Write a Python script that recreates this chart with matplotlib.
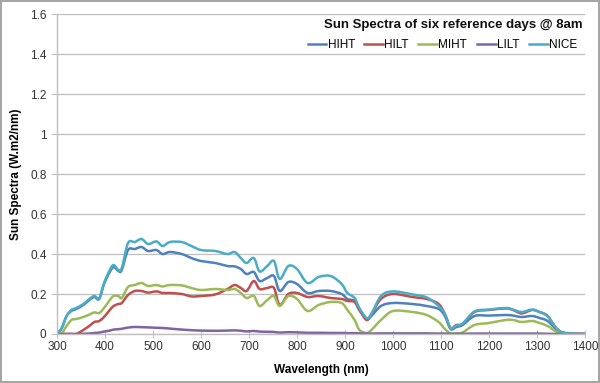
import matplotlib
matplotlib.use("Agg")
import matplotlib.pyplot as plt
import numpy as np
from matplotlib.lines import Line2D
from matplotlib.patches import PathPatch
from matplotlib.path import Path

plt.rcParams.update({
    "font.family": ["Liberation Sans", "DejaVu Sans"],
    "font.size": 8,
})

# wavelength grid (nm)
wavelength = [300, 310, 320, 330, 340, 355, 370, 378, 388, 398, 410, 418, 428, 435,
              448, 462, 476, 490, 507, 520, 535, 560, 580, 600, 630, 655, 670, 683,
              695, 710, 722, 738, 752, 764, 782, 800, 822, 845, 870, 893, 905, 920,
              930, 945, 955, 975, 1000, 1040, 1070, 1095, 1108, 1120, 1132, 1145,
              1170, 1200, 1235, 1250, 1268, 1290, 1305, 1322, 1350, 1400]

hiht = [0, 0.03, 0.09, 0.115, 0.125, 0.145, 0.175, 0.185, 0.175, 0.25, 0.31, 0.335,
        0.315, 0.32, 0.42, 0.425, 0.435, 0.415, 0.42, 0.40, 0.41, 0.40, 0.38, 0.365,
        0.355, 0.34, 0.338, 0.325, 0.30, 0.31, 0.265, 0.28, 0.29, 0.215, 0.26, 0.25,
        0.205, 0.215, 0.215, 0.20, 0.175, 0.165, 0.12, 0.075, 0.09, 0.14, 0.155,
        0.15, 0.14, 0.125, 0.09, 0.025, 0.035, 0.045, 0.09, 0.092, 0.095, 0.092,
        0.085, 0.09, 0.08, 0.065, 0.01, 0]

hilt = [0, 0, 0, 0, 0, 0.02, 0.045, 0.06, 0.065, 0.085, 0.12, 0.14, 0.15, 0.155,
        0.195, 0.215, 0.215, 0.207, 0.213, 0.205, 0.205, 0.20, 0.188, 0.19, 0.198,
        0.225, 0.245, 0.23, 0.215, 0.265, 0.225, 0.23, 0.23, 0.145, 0.20, 0.205,
        0.185, 0.19, 0.18, 0.175, 0.165, 0.16, 0.12, 0.07, 0.10, 0.175, 0.20, 0.185,
        0.175, 0.15, 0.10, 0.03, 0.045, 0.05, 0.11, 0.12, 0.128, 0.12, 0.103, 0.12,
        0.11, 0.09, 0.01, 0]

miht = [0, 0.005, 0.04, 0.07, 0.075, 0.085, 0.10, 0.108, 0.105, 0.13, 0.17, 0.19,
        0.19, 0.18, 0.235, 0.245, 0.255, 0.24, 0.245, 0.238, 0.245, 0.243, 0.23,
        0.22, 0.225, 0.22, 0.225, 0.205, 0.18, 0.19, 0.14, 0.17, 0.19, 0.14, 0.19,
        0.175, 0.115, 0.145, 0.16, 0.155, 0.12, 0.07, 0.02, 0.005, 0.02, 0.07,
        0.115, 0.11, 0.095, 0.06, 0.025, 0.003, 0.003, 0.008, 0.045, 0.055, 0.07,
        0.07, 0.06, 0.065, 0.055, 0.04, 0.003, 0]

lilt = [0, 0, 0, 0, 0, 0.001, 0.003, 0.005, 0.007, 0.012, 0.017, 0.022, 0.024,
        0.026, 0.032, 0.035, 0.034, 0.033, 0.031, 0.03, 0.027, 0.022, 0.019, 0.017,
        0.016, 0.017, 0.018, 0.016, 0.013, 0.015, 0.012, 0.011, 0.01, 0.007, 0.009,
        0.008, 0.006, 0.006, 0.005, 0.005, 0.004, 0.004, 0.003, 0.002, 0.002, 0.003,
        0.003, 0.003, 0.003, 0.002, 0.002, 0.001, 0.001, 0.001, 0.002, 0.002, 0.002,
        0.002, 0.002, 0.002, 0.002, 0.001, 0, 0]

nice = [0, 0.03, 0.09, 0.12, 0.13, 0.15, 0.18, 0.19, 0.18, 0.255, 0.32, 0.345,
        0.32, 0.33, 0.455, 0.46, 0.475, 0.45, 0.463, 0.44, 0.46, 0.46, 0.44, 0.42,
        0.415, 0.40, 0.41, 0.38, 0.355, 0.38, 0.313, 0.34, 0.365, 0.275, 0.34,
        0.325, 0.255, 0.285, 0.29, 0.25, 0.205, 0.18, 0.13, 0.08, 0.10, 0.19, 0.213,
        0.198, 0.183, 0.14, 0.10, 0.03, 0.042, 0.052, 0.113, 0.122, 0.13, 0.122,
        0.11, 0.122, 0.11, 0.088, 0.01, 0]

names = ["HIHT", "HILT", "MIHT", "LILT", "NICE"]
colors = ["#4F81BD", "#C0504D", "#9BBB59", "#8064A2", "#4BACC6"]
values = [hiht, hilt, miht, lilt, nice]


def smooth_path(x, y, tension=0.5):
    """Cubic Bezier path through the points (Catmull-Rom style, like a smoothed line)."""
    p = np.column_stack([x, y]).astype(float)
    ext = np.vstack([p[0], p, p[-1]])
    verts = [p[0]]
    codes = [Path.MOVETO]
    for i in range(len(p) - 1):
        p0, p1, p2, p3 = ext[i], ext[i + 1], ext[i + 2], ext[i + 3]
        c1 = p1 + (p2 - p0) * tension / 3
        c2 = p2 - (p3 - p1) * tension / 3
        verts += [c1, c2, p2]
        codes += [Path.CURVE4] * 3
    return Path(verts, codes)


fig = plt.figure(figsize=(6.0, 3.83), dpi=100)
fig.patch.set_edgecolor("#A6A6A6")
fig.patch.set_linewidth(1.5)
ax = fig.add_axes([0.095, 0.128, 0.88, 0.835])

handles = []
for name, vals, color in zip(names, values, colors):
    ax.add_patch(PathPatch(smooth_path(wavelength, vals), fill=False,
                           edgecolor=color, lw=1.8, joinstyle="round"))
    handles.append(Line2D([], [], color=color, lw=1.8, label=name))

ax.set_xlim(300, 1400)
ax.set_ylim(0, 1.6)
ax.set_xticks(range(300, 1401, 100))
ax.set_yticks([0, 0.2, 0.4, 0.6, 0.8, 1, 1.2, 1.4, 1.6])
ax.set_yticklabels(["0", "0.2", "0.4", "0.6", "0.8", "1", "1.2", "1.4", "1.6"])
ax.grid(axis="y", color="#BFBFBF", lw=0.9)
ax.set_axisbelow(True)
for side in ("top", "right"):
    ax.spines[side].set_visible(False)
for side in ("left", "bottom"):
    ax.spines[side].set_color("#BFBFBF")
    ax.spines[side].set_linewidth(1.0)
ax.tick_params(axis="both", colors="#BFBFBF", labelcolor="#333333",
               labelsize=8.5, length=4)
ax.tick_params(axis="x", direction="inout", length=6, pad=2)

ax.set_xlabel("Wavelength (nm)", fontweight="bold", fontsize=8.5, labelpad=8)
ax.set_ylabel("Sun Spectra (W.m2/nm)", fontweight="bold", fontsize=8.5, labelpad=6)

ax.text(0.995, 0.965, "Sun Spectra of six reference days @ 8am", transform=ax.transAxes,
        ha="right", va="center", fontweight="bold", fontsize=9.5, color="#111111")
ax.legend(handles=handles, loc="upper right", bbox_to_anchor=(1.005, 0.955), ncol=5,
          frameon=False, handlelength=1.6, handletextpad=0.1, columnspacing=0.8,
          fontsize=8.5)

fig.savefig("out.png", dpi=100, edgecolor=fig.get_edgecolor())
